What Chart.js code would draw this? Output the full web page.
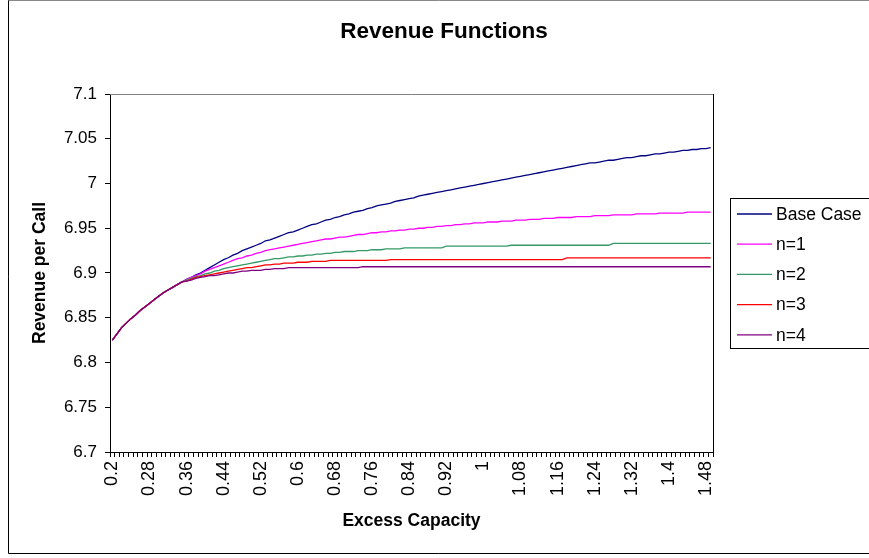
<!DOCTYPE html>
<html>
<head>
<meta charset="utf-8">
<title>Revenue Functions</title>
<script src="https://cdn.jsdelivr.net/npm/chart.js@4.4.1/dist/chart.umd.min.js"></script>
<style>
html, body { margin: 0; padding: 0; background: #fff; }
#wrap { width: 869px; height: 558px; }
</style>
</head>
<body>
<div id="wrap"><canvas id="revChart" width="869" height="558"></canvas></div>
<script>
// excess capacity, one category per 0.01
const capacity = [
    0.2, 0.21, 0.22, 0.23, 0.24, 0.25, 0.26, 0.27, 0.28, 0.29,
    0.3, 0.31, 0.32, 0.33, 0.34, 0.35, 0.36, 0.37, 0.38, 0.39,
    0.4, 0.41, 0.42, 0.43, 0.44, 0.45, 0.46, 0.47, 0.48, 0.49,
    0.5, 0.51, 0.52, 0.53, 0.54, 0.55, 0.56, 0.57, 0.58, 0.59,
    0.6, 0.61, 0.62, 0.63, 0.64, 0.65, 0.66, 0.67, 0.68, 0.69,
    0.7, 0.71, 0.72, 0.73, 0.74, 0.75, 0.76, 0.77, 0.78, 0.79,
    0.8, 0.81, 0.82, 0.83, 0.84, 0.85, 0.86, 0.87, 0.88, 0.89,
    0.9, 0.91, 0.92, 0.93, 0.94, 0.95, 0.96, 0.97, 0.98, 0.99,
    1, 1.01, 1.02, 1.03, 1.04, 1.05, 1.06, 1.07, 1.08, 1.09,
    1.1, 1.11, 1.12, 1.13, 1.14, 1.15, 1.16, 1.17, 1.18, 1.19,
    1.2, 1.21, 1.22, 1.23, 1.24, 1.25, 1.26, 1.27, 1.28, 1.29,
    1.3, 1.31, 1.32, 1.33, 1.34, 1.35, 1.36, 1.37, 1.38, 1.39,
    1.4, 1.41, 1.42, 1.43, 1.44, 1.45, 1.46, 1.47, 1.48, 1.49
];

const baseCase = [
    6.825, 6.832, 6.839, 6.844, 6.849, 6.853, 6.858, 6.862, 6.866, 6.870,
    6.874, 6.878, 6.881, 6.884, 6.887, 6.890, 6.893, 6.895, 6.898, 6.900,
    6.903, 6.906, 6.909, 6.912, 6.915, 6.917, 6.920, 6.922, 6.925, 6.927,
    6.929, 6.931, 6.933, 6.936, 6.937, 6.939, 6.941, 6.943, 6.945, 6.946,
    6.948, 6.950, 6.952, 6.954, 6.955, 6.957, 6.959, 6.960, 6.962, 6.963,
    6.965, 6.966, 6.968, 6.969, 6.970, 6.972, 6.973, 6.975, 6.976, 6.977,
    6.978, 6.980, 6.981, 6.982, 6.983, 6.984, 6.986, 6.987, 6.988, 6.989,
    6.990, 6.991, 6.992, 6.993, 6.994, 6.995, 6.996, 6.997, 6.998, 6.999,
    7.000, 7.001, 7.002, 7.003, 7.004, 7.005, 7.006, 7.007, 7.008, 7.009,
    7.010, 7.011, 7.012, 7.013, 7.014, 7.015, 7.016, 7.017, 7.018, 7.019,
    7.020, 7.021, 7.022, 7.023, 7.023, 7.024, 7.025, 7.026, 7.026, 7.027,
    7.028, 7.029, 7.029, 7.030, 7.031, 7.031, 7.032, 7.033, 7.033, 7.034,
    7.035, 7.035, 7.036, 7.037, 7.037, 7.038, 7.038, 7.039, 7.039, 7.040
];

const n1 = [
    6.825, 6.832, 6.839, 6.844, 6.849, 6.853, 6.858, 6.862, 6.866, 6.870,
    6.874, 6.878, 6.881, 6.884, 6.887, 6.890, 6.893, 6.895, 6.897, 6.899,
    6.902, 6.904, 6.906, 6.908, 6.910, 6.912, 6.914, 6.916, 6.917, 6.919,
    6.920, 6.922, 6.923, 6.925, 6.926, 6.927, 6.928, 6.929, 6.930, 6.931,
    6.932, 6.933, 6.934, 6.935, 6.936, 6.937, 6.938, 6.938, 6.939, 6.940,
    6.940, 6.941, 6.942, 6.943, 6.943, 6.944, 6.945, 6.945, 6.946, 6.946,
    6.947, 6.947, 6.948, 6.948, 6.949, 6.949, 6.950, 6.950, 6.951, 6.951,
    6.952, 6.952, 6.953, 6.953, 6.954, 6.954, 6.955, 6.955, 6.956, 6.956,
    6.956, 6.957, 6.957, 6.957, 6.958, 6.958, 6.958, 6.959, 6.959, 6.959,
    6.960, 6.960, 6.960, 6.961, 6.961, 6.961, 6.962, 6.962, 6.962, 6.962,
    6.963, 6.963, 6.963, 6.963, 6.964, 6.964, 6.964, 6.964, 6.965, 6.965,
    6.965, 6.965, 6.965, 6.966, 6.966, 6.966, 6.966, 6.966, 6.967, 6.967,
    6.967, 6.967, 6.967, 6.967, 6.968, 6.968, 6.968, 6.968, 6.968, 6.968
];

const n2 = [
    6.825, 6.832, 6.839, 6.844, 6.849, 6.853, 6.858, 6.862, 6.866, 6.870,
    6.874, 6.878, 6.881, 6.884, 6.887, 6.890, 6.892, 6.894, 6.896, 6.897,
    6.899, 6.900, 6.902, 6.903, 6.905, 6.906, 6.907, 6.908, 6.909, 6.910,
    6.911, 6.912, 6.913, 6.914, 6.915, 6.916, 6.916, 6.917, 6.918, 6.918,
    6.919, 6.919, 6.920, 6.920, 6.921, 6.921, 6.922, 6.922, 6.923, 6.923,
    6.924, 6.924, 6.924, 6.925, 6.925, 6.925, 6.926, 6.926, 6.926, 6.927,
    6.927, 6.927, 6.927, 6.928, 6.928, 6.928, 6.928, 6.928, 6.928, 6.928,
    6.928, 6.928, 6.930, 6.930, 6.930, 6.930, 6.930, 6.930, 6.930, 6.930,
    6.930, 6.930, 6.930, 6.930, 6.930, 6.930, 6.931, 6.931, 6.931, 6.931,
    6.931, 6.931, 6.931, 6.931, 6.931, 6.931, 6.931, 6.931, 6.931, 6.931,
    6.931, 6.931, 6.931, 6.931, 6.931, 6.931, 6.931, 6.931, 6.933, 6.933,
    6.933, 6.933, 6.933, 6.933, 6.933, 6.933, 6.933, 6.933, 6.933, 6.933,
    6.933, 6.933, 6.933, 6.933, 6.933, 6.933, 6.933, 6.933, 6.933, 6.933
];

const n3 = [
    6.825, 6.832, 6.839, 6.844, 6.849, 6.853, 6.858, 6.862, 6.866, 6.870,
    6.874, 6.878, 6.881, 6.884, 6.887, 6.890, 6.891, 6.893, 6.895, 6.896,
    6.897, 6.898, 6.899, 6.900, 6.901, 6.902, 6.903, 6.904, 6.905, 6.906,
    6.906, 6.907, 6.908, 6.909, 6.909, 6.910, 6.910, 6.911, 6.911, 6.911,
    6.912, 6.912, 6.912, 6.913, 6.913, 6.913, 6.913, 6.914, 6.914, 6.914,
    6.914, 6.914, 6.914, 6.914, 6.914, 6.914, 6.914, 6.914, 6.914, 6.914,
    6.915, 6.915, 6.915, 6.915, 6.915, 6.915, 6.915, 6.915, 6.915, 6.915,
    6.915, 6.915, 6.915, 6.915, 6.915, 6.915, 6.915, 6.915, 6.915, 6.915,
    6.915, 6.915, 6.915, 6.915, 6.915, 6.915, 6.915, 6.915, 6.915, 6.915,
    6.915, 6.915, 6.915, 6.915, 6.915, 6.915, 6.915, 6.915, 6.917, 6.917,
    6.917, 6.917, 6.917, 6.917, 6.917, 6.917, 6.917, 6.917, 6.917, 6.917,
    6.917, 6.917, 6.917, 6.917, 6.917, 6.917, 6.917, 6.917, 6.917, 6.917,
    6.917, 6.917, 6.917, 6.917, 6.917, 6.917, 6.917, 6.917, 6.917, 6.917
];

const n4 = [
    6.825, 6.832, 6.839, 6.844, 6.849, 6.853, 6.858, 6.862, 6.866, 6.870,
    6.874, 6.878, 6.881, 6.884, 6.887, 6.890, 6.891, 6.892, 6.894, 6.895,
    6.896, 6.897, 6.897, 6.898, 6.899, 6.900, 6.900, 6.901, 6.902, 6.902,
    6.903, 6.903, 6.903, 6.904, 6.904, 6.905, 6.905, 6.905, 6.906, 6.906,
    6.906, 6.906, 6.906, 6.906, 6.906, 6.906, 6.906, 6.906, 6.906, 6.906,
    6.906, 6.906, 6.906, 6.906, 6.907, 6.907, 6.907, 6.907, 6.907, 6.907,
    6.907, 6.907, 6.907, 6.907, 6.907, 6.907, 6.907, 6.907, 6.907, 6.907,
    6.907, 6.907, 6.907, 6.907, 6.907, 6.907, 6.907, 6.907, 6.907, 6.907,
    6.907, 6.907, 6.907, 6.907, 6.907, 6.907, 6.907, 6.907, 6.907, 6.907,
    6.907, 6.907, 6.907, 6.907, 6.907, 6.907, 6.907, 6.907, 6.907, 6.907,
    6.907, 6.907, 6.907, 6.907, 6.907, 6.907, 6.907, 6.907, 6.907, 6.907,
    6.907, 6.907, 6.907, 6.907, 6.907, 6.907, 6.907, 6.907, 6.907, 6.907,
    6.907, 6.907, 6.907, 6.907, 6.907, 6.907, 6.907, 6.907, 6.907, 6.907
];

const seriesNames = ['Base Case', 'n=1', 'n=2', 'n=3', 'n=4'];
const seriesColors = ['#000080', '#FF00FF', '#339966', '#FF0000', '#800080'];
const seriesValues = [baseCase, n1, n2, n3, n4];

const FONT = "'Liberation Sans', Arial, sans-serif";

// white page, outer frame, plot border, title, boxed legend
const excelLook = {
    id: 'excelLook',
    beforeDraw(chart) {
        const ctx = chart.ctx;
        ctx.save();
        ctx.fillStyle = '#fff';
        ctx.fillRect(0, 0, chart.width, chart.height);
        ctx.lineWidth = 1;
        ctx.strokeStyle = '#000';
        ctx.beginPath();
        ctx.moveTo(8.5, 0);
        ctx.lineTo(8.5, 553.5);
        ctx.lineTo(chart.width, 553.5);
        ctx.stroke();
        ctx.strokeStyle = '#888';
        ctx.beginPath();
        ctx.moveTo(8.5, 0.5);
        ctx.lineTo(chart.width, 0.5);
        ctx.stroke();
        ctx.restore();
    },
    beforeDatasetsDraw(chart) {
        const a = chart.chartArea;
        const ctx = chart.ctx;
        ctx.save();
        ctx.lineWidth = 1;
        ctx.strokeStyle = '#808080';
        ctx.beginPath();
        ctx.moveTo(a.left, a.top + 0.5);
        ctx.lineTo(a.right, a.top + 0.5);
        ctx.stroke();
        ctx.strokeStyle = '#000';
        ctx.beginPath();
        ctx.moveTo(a.right + 0.5, a.top);
        ctx.lineTo(a.right + 0.5, a.bottom);
        ctx.stroke();
        ctx.restore();
    },
    afterDraw(chart) {
        const ctx = chart.ctx;
        ctx.save();
        ctx.fillStyle = '#000';
        ctx.font = 'bold 22.5px ' + FONT;
        ctx.textAlign = 'center';
        ctx.textBaseline = 'middle';
        ctx.fillText('Revenue Functions', 444, 32);

        // legend box
        ctx.lineWidth = 1;
        ctx.strokeStyle = '#000';
        ctx.strokeRect(730.5, 198.5, 160, 150);
        ctx.font = '17.5px ' + FONT;
        ctx.textAlign = 'left';
        chart.data.datasets.forEach((ds, i) => {
            const y = 214 + i * 30.2;
            ctx.strokeStyle = ds.borderColor;
            ctx.lineWidth = 1.3;
            ctx.beginPath();
            ctx.moveTo(737, y);
            ctx.lineTo(772, y);
            ctx.stroke();
            ctx.fillStyle = '#000';
            ctx.fillText(ds.label, 776, y + 1);
        });
        ctx.restore();
    }
};

new Chart(document.getElementById('revChart'), {
    type: 'line',
    data: {
        labels: capacity,
        datasets: seriesNames.map((name, i) => ({
            label: name,
            data: seriesValues[i],
            borderColor: seriesColors[i],
            backgroundColor: seriesColors[i],
            borderWidth: 1.3,
            pointRadius: 0,
            tension: 0,
            fill: false,
            order: seriesNames.length - i
        }))
    },
    options: {
        responsive: false,
        animation: false,
        devicePixelRatio: 1,
        layout: { padding: { left: 8, top: 94, right: 156, bottom: 0 } },
        plugins: {
            legend: { display: false },
            title: { display: false },
            tooltip: { enabled: false }
        },
        scales: {
            x: {
                type: 'category',
                offset: true,
                afterFit(scale) { scale.height = 106; },
                grid: {
                    offset: true,
                    drawOnChartArea: false,
                    drawTicks: true,
                    tickLength: 5,
                    color: '#000'
                },
                border: { display: true, color: '#000', width: 1 },
                ticks: {
                    autoSkip: false,
                    minRotation: 90,
                    maxRotation: 90,
                    padding: 4,
                    color: '#000',
                    font: { family: FONT, size: 18 },
                    callback: (v, i) => (i % 8 === 0 ? String(capacity[i]) : '')
                },
                title: {
                    display: true,
                    text: 'Excess Capacity',
                    color: '#000',
                    font: { family: FONT, size: 17.5, weight: 'bold' },
                    padding: { top: 0, bottom: 26.5 }
                }
            },
            y: {
                min: 6.7,
                max: 7.1,
                afterFit(scale) { scale.width = 102; },
                grid: {
                    drawOnChartArea: false,
                    drawTicks: true,
                    tickLength: 5,
                    color: '#000'
                },
                border: { display: true, color: '#000', width: 1 },
                ticks: {
                    stepSize: 0.05,
                    padding: 8,
                    color: '#000',
                    font: { family: FONT, size: 17 },
                    callback: v => String(parseFloat(v.toFixed(2)))
                },
                title: {
                    display: true,
                    text: 'Revenue per Call',
                    color: '#000',
                    font: { family: FONT, size: 17.5, weight: 'bold' },
                    padding: { top: 21.5, bottom: 0 }
                }
            }
        }
    },
    plugins: [excelLook]
});
</script>
</body>
</html>
